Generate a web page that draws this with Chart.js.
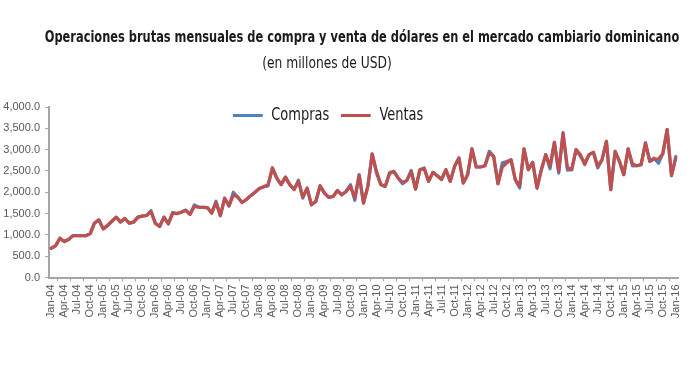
<!DOCTYPE html>
<html>
<head>
<meta charset="utf-8">
<script src="https://cdn.jsdelivr.net/npm/chart.js@4.4.1/dist/chart.umd.min.js"></script>
<style>
  body { margin: 0; background: #fff; }
  #wrap { position: relative; width: 693px; height: 370px; overflow: hidden; }
  .narrow { font-family: "Liberation Sans Narrow", "DejaVu Sans Condensed", sans-serif; font-stretch: condensed; color: #1a1a1a; white-space: nowrap; }
  #title { position: absolute; left: -138px; top: 28px; width: 1000px; text-align: center; font-size: 15px; font-weight: bold; transform: scaleX(0.845); transform-origin: 500px 0; }
  #subtitle { position: absolute; left: 227px; top: 54px; width: 200px; text-align: center; font-size: 15px; transform: scaleX(0.91); transform-origin: 100px 0; }
  #legend { position: absolute; left: 233px; top: 104px; font-size: 17px; transform: scaleX(0.85); transform-origin: 0 0; }
  #legend span.line { display: inline-block; width: 35px; height: 3px; vertical-align: middle; margin-right: 10px; }
  #legend span.item { margin-right: 14px; }
</style>
</head>
<body>
<div id="wrap">
  <canvas id="salesChart" width="693" height="370"></canvas>
  <div id="title" class="narrow">Operaciones brutas mensuales de compra y venta de dólares en el mercado cambiario dominicano</div>
  <div id="subtitle" class="narrow">(en millones de USD)</div>
  <div id="legend" class="narrow"><span class="item"><span class="line" style="background:#4f81bd"></span>Compras</span><span class="item"><span class="line" style="background:#c0504d"></span>Ventas</span></div>
</div>
<script>
// meses Jan-04 ... Jan-16
const months = ['Jan', 'Feb', 'Mar', 'Apr', 'May', 'Jun', 'Jul', 'Aug', 'Sep', 'Oct', 'Nov', 'Dec'];
const years = ['04', '05', '06', '07', '08', '09', '10', '11', '12', '13', '14', '15', '16'];

// valores (millones de USD)
const ventas = [
    686, 740, 921, 843, 890, 984, 980, 980, 980, 1030, 1280, 1352,
    1141, 1220, 1320, 1416, 1300, 1384, 1275, 1300, 1416, 1440, 1455, 1549,
    1275, 1196, 1416, 1259, 1510, 1500, 1530, 1580, 1480, 1666, 1650, 1645,
    1640, 1510, 1760, 1450, 1860, 1680, 1940, 1886, 1760, 1830, 1920, 2000,
    2090, 2130, 2180, 2570, 2333, 2180, 2356, 2180, 2065, 2255, 1886, 2098,
    1706, 1784, 2153, 1980, 1880, 1900, 2040, 1940, 2020, 2137, 1860, 2410,
    1745, 2137, 2898, 2490, 2180, 2137, 2435, 2490, 2333, 2231, 2278, 2490,
    2075, 2529, 2553, 2255, 2467, 2388, 2300, 2529, 2255, 2608, 2804, 2216,
    2412, 3016, 2592, 2592, 2623, 2921, 2843, 2200, 2592, 2686, 2765, 2294,
    2137, 3016, 2529, 2702, 2098, 2529, 2882, 2608, 3173, 2490, 3392, 2584,
    2529, 3000, 2882, 2647, 2882, 2937, 2608, 2765, 3196, 2059, 2960, 2725,
    2412, 3016, 2670, 2623, 2647, 3157, 2725, 2780, 2780, 2906, 3470, 2388,
    2804
];
const compras = [
    686, 740, 921, 843, 890, 984, 980, 980, 980, 1030, 1280, 1352,
    1141, 1220, 1320, 1416, 1300, 1384, 1275, 1300, 1416, 1440, 1455, 1565,
    1275, 1196, 1416, 1259, 1525, 1500, 1530, 1580, 1480, 1700, 1650, 1645,
    1640, 1510, 1790, 1450, 1860, 1680, 2000, 1886, 1760, 1830, 1920, 2000,
    2090, 2130, 2150, 2570, 2333, 2180, 2356, 2180, 2065, 2285, 1860, 2098,
    1706, 1784, 2153, 1980, 1880, 1900, 2040, 1940, 2020, 2180, 1810, 2410,
    1745, 2137, 2898, 2450, 2180, 2137, 2460, 2490, 2333, 2200, 2278, 2510,
    2075, 2529, 2570, 2255, 2467, 2388, 2300, 2529, 2255, 2608, 2804, 2216,
    2412, 3016, 2592, 2592, 2623, 2960, 2843, 2200, 2690, 2720, 2765, 2294,
    2100, 3016, 2529, 2702, 2098, 2529, 2882, 2550, 3173, 2450, 3392, 2520,
    2529, 3000, 2840, 2690, 2882, 2937, 2570, 2765, 3196, 2059, 2960, 2725,
    2412, 3016, 2620, 2623, 2647, 3157, 2725, 2800, 2680, 2906, 3470, 2388,
    2840
];

const labels = [];
for (let y = 0; y < years.length; y++) {
    for (let m = 0; m < 12; m++) {
        if (labels.length < ventas.length) labels.push(months[m] + '-' + years[y]);
    }
}

const axisGrey = '#a6a6a6';
const tickGrey = '#595959';

var ctx = document.getElementById('salesChart').getContext('2d');
new Chart(ctx, {
    type: 'line',
    data: {
        labels: labels,
        datasets: [
            {
                label: 'Ventas',
                data: ventas,
                borderColor: '#c0504d',
                borderWidth: 3.2,
                pointRadius: 0,
                tension: 0,
                borderJoinStyle: 'round',
                borderCapStyle: 'round',
                fill: false,
                order: 0
            },
            {
                label: 'Compras',
                data: compras,
                borderColor: '#4f81bd',
                borderWidth: 3.2,
                pointRadius: 0,
                tension: 0,
                borderJoinStyle: 'round',
                borderCapStyle: 'round',
                fill: false,
                order: 1
            }
        ]
    },
    options: {
        responsive: false,
        animation: false,
        layout: { padding: { top: 107, right: 15, left: 0, bottom: 0 } },
        plugins: {
            legend: { display: false },
            tooltip: { enabled: false }
        },
        scales: {
            y: {
                min: 0,
                max: 4000,
                afterFit: function (s) { s.width = 49; },
                ticks: {
                    stepSize: 500,
                    color: tickGrey,
                    padding: 5,
                    font: { family: 'Liberation Sans', size: 11 },
                    callback: function (v) {
                        return v.toLocaleString('en-US', { minimumFractionDigits: 1, maximumFractionDigits: 1 });
                    }
                },
                grid: { drawOnChartArea: false, tickLength: 4, color: axisGrey },
                border: { color: axisGrey, width: 2 }
            },
            x: {
                offset: true,
                afterFit: function (s) { s.height = 92.5; },
                ticks: {
                    autoSkip: false,
                    minRotation: 90,
                    maxRotation: 90,
                    color: tickGrey,
                    padding: 3,
                    font: { family: 'Liberation Sans', size: 11 },
                    callback: function (v, i) {
                        return i % 3 === 0 ? labels[i] : null;
                    }
                },
                grid: { offset: true, drawOnChartArea: false, tickLength: 4, color: axisGrey },
                border: { color: axisGrey, width: 2 }
            }
        }
    }
});
</script>
</body>
</html>
